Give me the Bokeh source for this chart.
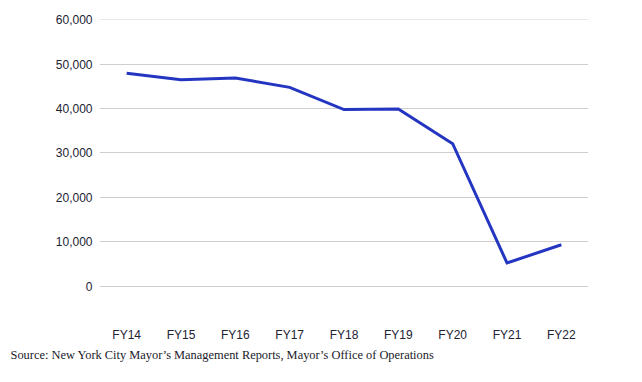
from bokeh.plotting import figure
from bokeh.models import Range1d, FixedTicker, NumeralTickFormatter, Title
from bokeh.embed import file_html
from bokeh.resources import INLINE

years = ["FY14", "FY15", "FY16", "FY17", "FY18", "FY19", "FY20", "FY21", "FY22"]
values = [48000, 46500, 46900, 44800, 39800, 39900, 32100, 5200, 9300]
y_ticks = [0, 10000, 20000, 30000, 40000, 50000, 60000]
source_text = "Source: New York City Mayor\u2019s Management Reports, Mayor\u2019s Office of Operations"

p = figure(frame_width=489, frame_height=302, x_range=years, y_range=Range1d(-8000, 60100),
           output_backend="svg", toolbar_location=None,
           min_border_left=99, min_border_right=40, min_border_top=19, min_border_bottom=50)
p.x_range.range_padding = 0

p.line(x=years, y=values, line_color="#2436c1", line_width=3, line_join="miter")

p.outline_line_color = None
p.xgrid.grid_line_color = None
p.ygrid.ticker = FixedTicker(ticks=y_ticks)
p.ygrid.grid_line_color = "#cfcfcf"
p.ygrid.grid_line_width = 1

p.yaxis.ticker = FixedTicker(ticks=y_ticks)
p.yaxis.formatter = NumeralTickFormatter(format="0,0")
for ax in (p.xaxis, p.yaxis):
    ax.axis_line_color = None
    ax.major_tick_line_color = None
    ax.minor_tick_line_color = None
    ax.major_tick_out = 0
    ax.major_tick_in = 0
    ax.minor_tick_out = 0
    ax.minor_tick_in = 0
    ax.major_label_text_font = "Liberation Sans"
    ax.major_label_text_font_size = "12px"
    ax.major_label_text_color = "#222233"
p.yaxis.major_label_standoff = 7
p.xaxis.major_label_standoff = 6

src = Title(text=source_text, align="left", offset=-89, standoff=2,
            text_font="Liberation Serif", text_font_size="12.4px",
            text_font_style="normal", text_color="#1a1a2a")
p.add_layout(src, "below")

open("out.html", "w").write(file_html(p, INLINE))
